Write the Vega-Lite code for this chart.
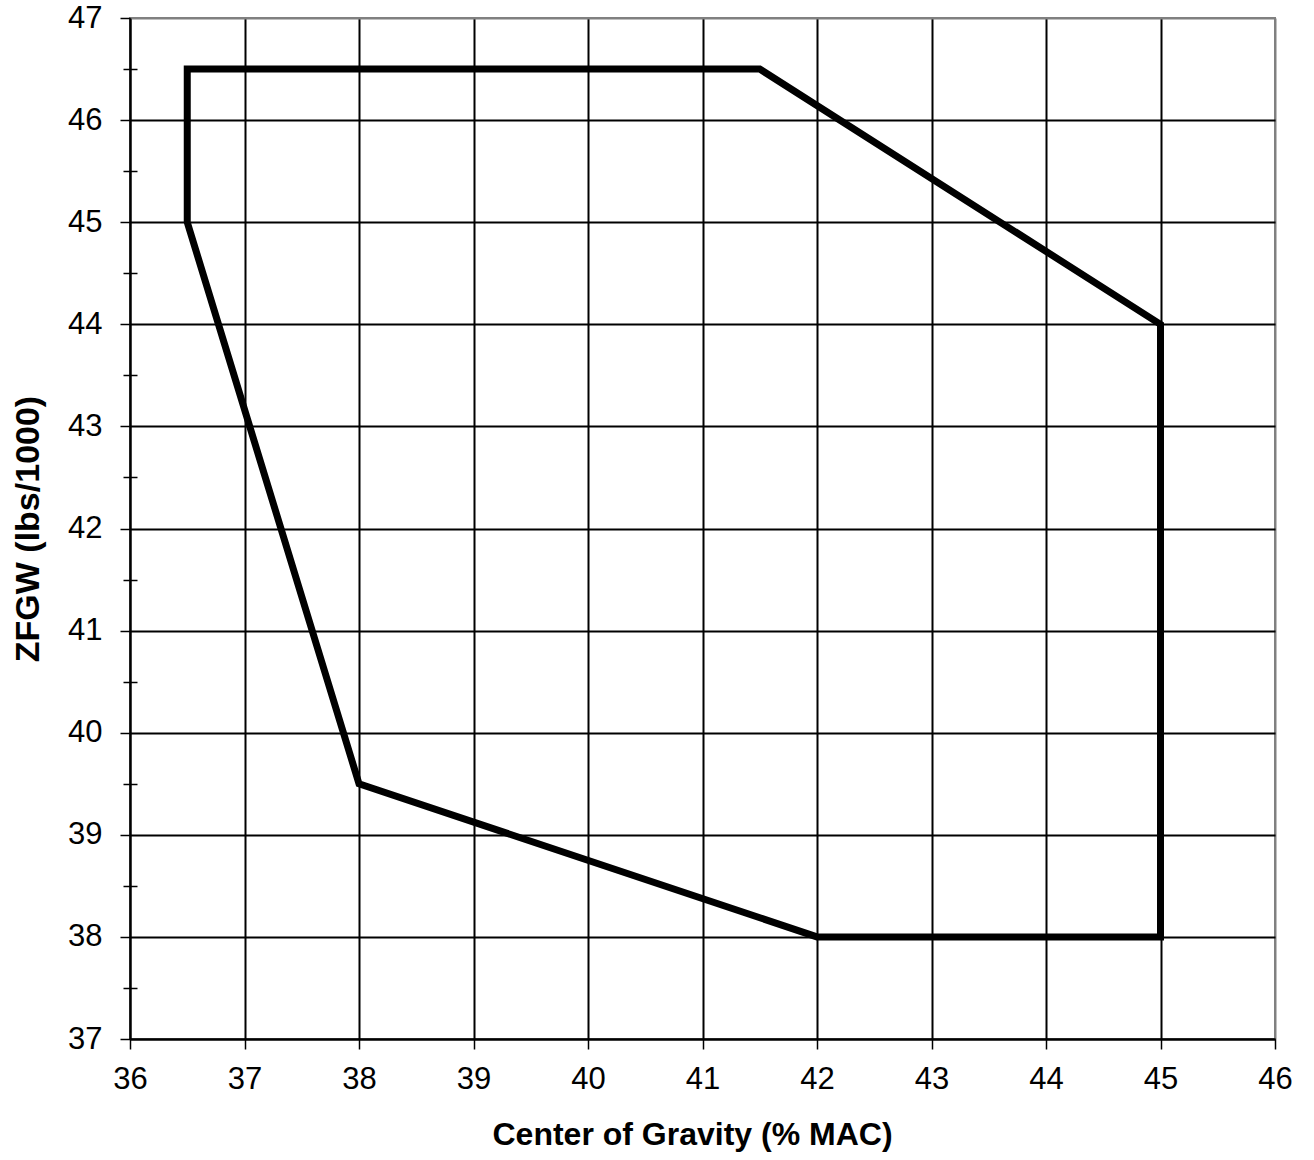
{
  "$schema": "https://vega.github.io/schema/vega-lite/v6.json",
  "width": 1145,
  "height": 1021,
  "autosize": {"type": "none"},
  "padding": {"left": 130, "top": 18, "right": 39, "bottom": 121},
  "background": "white",
  "config": {
    "font": "Liberation Sans",
    "view": {"stroke": "#808080", "strokeWidth": 2},
    "axis": {
      "labelFont": "Liberation Sans",
      "labelFontSize": 31,
      "labelColor": "black",
      "titleFont": "Liberation Sans",
      "titleFontSize": 32,
      "titleFontWeight": "bold",
      "titleColor": "black",
      "domainColor": "black",
      "domainWidth": 2,
      "tickColor": "black",
      "tickWidth": 1.5,
      "gridWidth": 2,
      "gridOpacity": 1
    }
  },
  "data": {
    "values": [
      {"order": 1, "cg": 36.5, "zfgw": 46.5},
      {"order": 2, "cg": 41.5, "zfgw": 46.5},
      {"order": 3, "cg": 45, "zfgw": 44},
      {"order": 4, "cg": 45, "zfgw": 38},
      {"order": 5, "cg": 42, "zfgw": 38},
      {"order": 6, "cg": 38, "zfgw": 39.5},
      {"order": 7, "cg": 36.5, "zfgw": 45},
      {"order": 8, "cg": 36.5, "zfgw": 46.5}
    ]
  },
  "resolve": {"axis": {"x": "independent", "y": "independent"}},
  "layer": [
    {
      "mark": {"type": "point", "opacity": 0},
      "encoding": {
        "x": {"field": "cg", "type": "quantitative", "scale": {"domain": [36, 46], "nice": false, "zero": false}, "axis": null},
        "y": {
          "field": "zfgw",
          "type": "quantitative",
          "scale": {"domain": [37, 47], "nice": false, "zero": false},
          "axis": {
            "orient": "left",
            "title": null,
            "values": [37.5, 38.5, 39.5, 40.5, 41.5, 42.5, 43.5, 44.5, 45.5, 46.5],
            "labels": false,
            "grid": false,
            "domain": false,
            "tickSize": 14,
            "offset": -7
          }
        }
      }
    },
    {
      "mark": {"type": "line", "color": "black", "strokeWidth": 7, "strokeJoin": "miter", "strokeCap": "square"},
      "encoding": {
        "x": {
          "field": "cg",
          "type": "quantitative",
          "scale": {"domain": [36, 46], "nice": false, "zero": false},
          "axis": {
            "orient": "bottom",
            "title": "Center of Gravity (% MAC)",
            "values": [36, 37, 38, 39, 40, 41, 42, 43, 44, 45, 46],
            "grid": true,
            "gridColor": {"condition": {"test": "datum.value >= 46", "value": "#808080"}, "value": "black"},
            "tickSize": 10,
            "labelPadding": 15,
            "titlePadding": 25,
            "titleX": 562,
            "labelFlush": false
          }
        },
        "y": {
          "field": "zfgw",
          "type": "quantitative",
          "scale": {"domain": [37, 47], "nice": false, "zero": false},
          "axis": {
            "orient": "left",
            "title": "ZFGW (lbs/1000)",
            "titleFontSize": 34,
            "values": [37, 38, 39, 40, 41, 42, 43, 44, 45, 46, 47],
            "grid": true,
            "gridColor": {"condition": {"test": "datum.value >= 47", "value": "#808080"}, "value": "black"},
            "tickSize": 10,
            "labelPadding": 18,
            "titlePadding": 22,
            "labelFlush": false
          }
        },
        "order": {"field": "order", "type": "quantitative"}
      }
    }
  ]
}
